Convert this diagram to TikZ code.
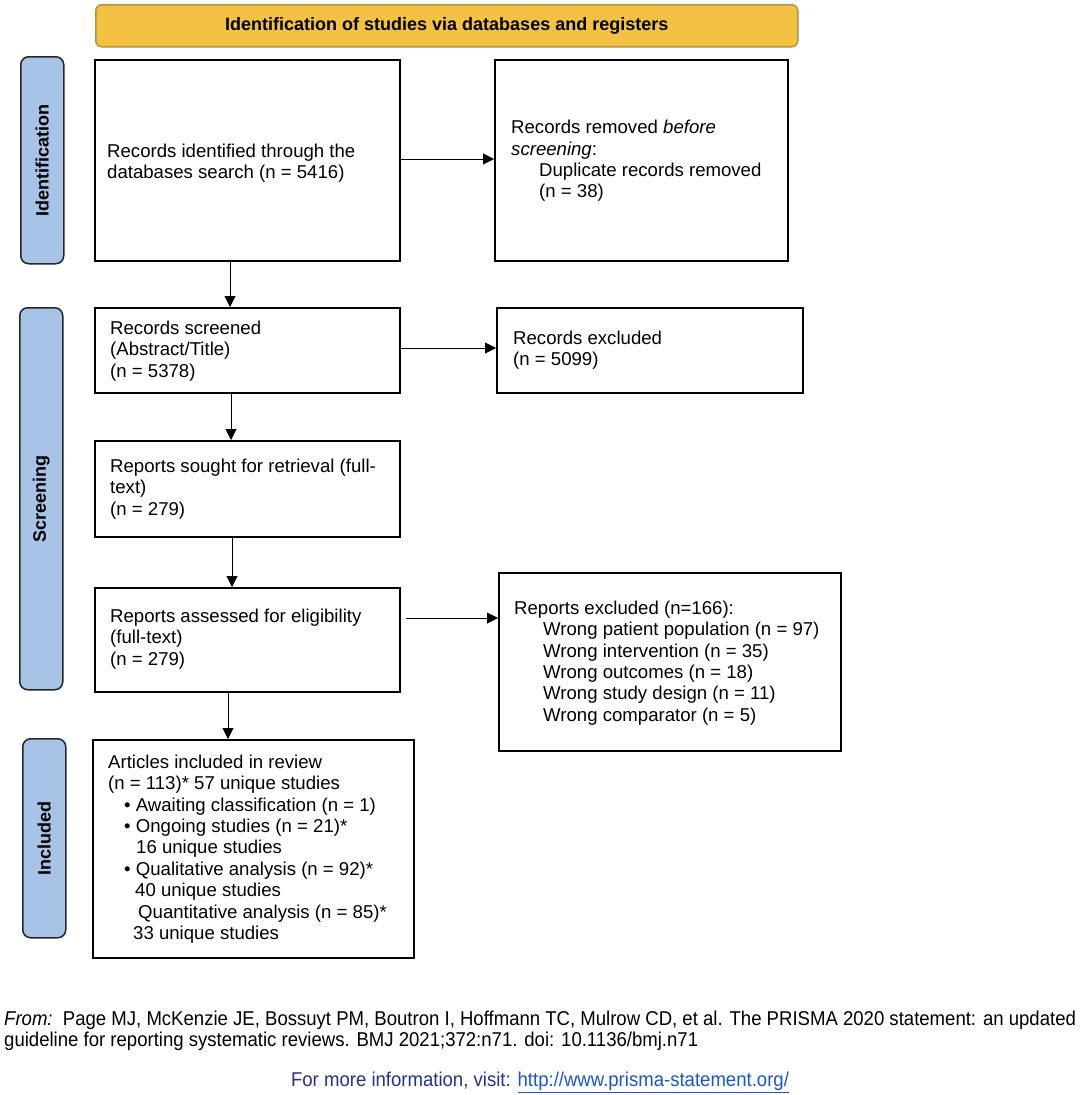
\documentclass[tikz,border=0pt]{standalone}
\usepackage{fontspec}
\setmainfont{Liberation Sans}
\newfontfamily\footfont[FakeStretch=0.928]{Liberation Sans}
\usetikzlibrary{arrows.meta,calc}
\definecolor{barfill}{HTML}{F3C243}
\definecolor{barline}{HTML}{B8913A}
\definecolor{sidefill}{HTML}{A7C3E6}
\definecolor{infoblue}{HTML}{24318C}
\definecolor{linkblue}{HTML}{1A56C9}
\begin{document}
\begin{tikzpicture}[x=1pt,y=-1pt,
  box/.style={draw=black,line width=1.8pt,inner sep=0pt,anchor=north west},
  txt/.style={inner sep=0pt,anchor=west,align=left,font=\fontsize{18.6}{21.4}\selectfont},
  side/.style={draw=black!85,line width=1.5pt,fill=sidefill,rounded corners=8pt,inner sep=0pt,anchor=north west},
  sidetxt/.style={rotate=90,font=\bfseries\fontsize{18}{21}\selectfont},
  arr/.style={line width=1pt,-{Triangle[length=11pt,width=11pt]}}]
\useasboundingbox (0,0) rectangle (1080,1095);

% header bar
\node[draw=barline,line width=1.5pt,fill=barfill,rounded corners=6pt,minimum width=702pt,minimum height=42pt,anchor=north west,inner sep=0pt] (head) at (95,4) {};
\node[font=\bfseries\fontsize{18}{21}\selectfont,inner sep=0pt] (headtxt) at (head.center) {Identification of studies via databases and registers};

% side bars
\node[side,minimum width=43pt,minimum height=207pt] (sid) at (20,56) {};
\node[sidetxt] (sidt) at (sid.center) {Identification};
\node[side,minimum width=43pt,minimum height=382pt] (sscr) at (19,307) {};
\node[sidetxt] (sscrt) at (sscr.center) {Screening};
\node[side,minimum width=43pt,minimum height=199pt] (sinc) at (22,738) {};
\node[sidetxt] (sinct) at (sinc.center) {Included};

% boxes
\node[box,minimum width=305pt,minimum height=201pt] (b1) at (94,59) {};
\node[txt] (t1) at (107,163) {Records identified through the\\databases search (n = 5416)};

\node[box,minimum width=293pt,minimum height=201pt] (b2) at (494,59) {};
\node[txt] (t2) at (511,161) {Records removed \textit{before}\\\textit{screening}:\\\hspace*{28pt}Duplicate records removed\\\hspace*{28pt}(n = 38)};

\node[box,minimum width=305pt,minimum height=85pt] (b3) at (94,307) {};
\node[txt] (t3) at (110,351) {Records screened\\(Abstract/Title)\\(n = 5378)};

\node[box,minimum width=306pt,minimum height=85pt] (b4) at (496,307) {};
\node[txt] (t4) at (513,350) {Records excluded\\(n = 5099)};

\node[box,minimum width=305pt,minimum height=96pt] (b5) at (94,440) {};
\node[txt] (t5) at (110,489) {Reports sought for retrieval (full-\\text)\\(n = 279)};

\node[box,minimum width=305pt,minimum height=104pt] (b6) at (94,587) {};
\node[txt] (t6) at (110,639) {Reports assessed for eligibility\\(full-text)\\(n = 279)};

\node[box,minimum width=342pt,minimum height=178pt] (b7) at (498,572) {};
\node[txt] (t7) at (514,663) {Reports excluded (n=166):\\
\hspace*{29pt}Wrong patient population (n = 97)\\
\hspace*{29pt}Wrong intervention (n = 35)\\
\hspace*{29pt}Wrong outcomes (n = 18)\\
\hspace*{29pt}Wrong study design (n = 11)\\
\hspace*{29pt}Wrong comparator (n = 5)};

\node[box,minimum width=321pt,minimum height=218pt] (b8) at (92,739) {};
\node[txt] (t8) at (108,849) {Articles included in review\\
(n = 113)* 57 unique studies\\
\hspace*{16pt}\textbullet\ Awaiting classification (n = 1)\\
\hspace*{16pt}\textbullet\ Ongoing studies (n = 21)*\\
\hspace*{28pt}16 unique studies\\
\hspace*{16pt}\textbullet\ Qualitative analysis (n = 92)*\\
\hspace*{27pt}40 unique studies\\
\hspace*{30pt}Quantitative analysis (n = 85)*\\
\hspace*{25pt}33 unique studies};

% connectors
\coordinate (x1) at (230,0);
\coordinate (x2) at (231,0);
\coordinate (x3) at (232,0);
\coordinate (x4) at (228,0);
\coordinate (h1) at (0,159);
\coordinate (h2) at (0,348);
\coordinate (h3) at (0,618);
\draw[arr] (b1.east |- h1) -- (b2.west |- h1);
\draw[arr] (x1 |- b1.south) -- (x1 |- b3.north);
\draw[arr] (b3.east |- h2) -- (b4.west |- h2);
\draw[arr] (x2 |- b3.south) -- (x2 |- b5.north);
\draw[arr] (x3 |- b5.south) -- (x3 |- b6.north);
\draw[arr] ($(b6.east |- h3)+(5,0)$) -- (b7.west |- h3);
\draw[arr] (x4 |- b6.south) -- (x4 |- b8.north);

% footer
\node[inner sep=0pt,anchor=west,align=left,font=\footfont\fontsize{20}{21}\selectfont] (foot) at (4,1031) {\textit{From:}\ \ Page MJ, McKenzie JE, Bossuyt PM, Boutron I, Hoffmann TC, Mulrow CD, et al. The PRISMA 2020 statement: an updated\\guideline for reporting systematic reviews. BMJ 2021;372:n71. doi: 10.1136/bmj.n71};
\node[inner sep=0pt,font=\footfont\fontsize{20}{21}\selectfont] (info) at (540,1082) {\textcolor{infoblue}{For more information, visit:} \textcolor{linkblue}{\underline{http://www.prisma-statement.org/}}};
\end{tikzpicture}
\end{document}
